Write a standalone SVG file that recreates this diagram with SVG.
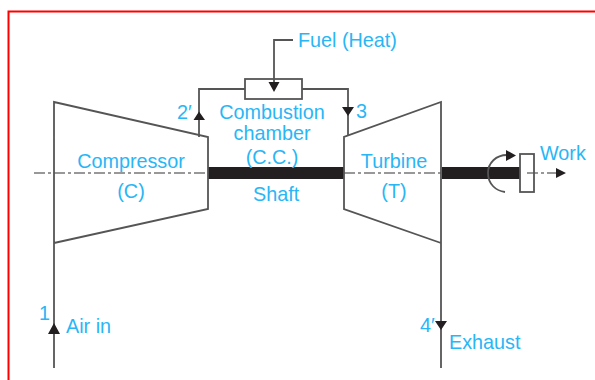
<svg xmlns="http://www.w3.org/2000/svg" width="595" height="380" viewBox="0 0 595 380">
<style>
.l{fill:none;stroke:#555;stroke-width:1.8}
.h{fill:#231f20;stroke:none}
.s{fill:#231f20;stroke:none}
.c{fill:none;stroke:#777;stroke-width:1.6;stroke-dasharray:11 3 3 3}
text{font-family:"Liberation Sans",Arial,sans-serif;font-size:19.8px;fill:#29b6f6}
.m{text-anchor:middle}
</style>
<rect width="595" height="380" fill="#fff"/>
<path d="M8.500 380V11.500H595" fill="none" stroke="#f00" stroke-width="2"/>
<g id="shaft"><rect class="s" x="208" y="167" width="136" height="12"/><rect class="s" x="442" y="167" width="78" height="12"/></g>
<g id="centerline"><path class="c" d="M34 173H208M344 173H441M527 173H556"/></g>
<g id="compressor"><path class="l" d="M54 243V102L208 137V209L54 243"/><text class="m" x="131" y="168">Compressor</text><text class="m" x="131" y="198">(C)</text></g>
<g id="turbine"><path class="l" d="M441 243V102L344 137V209L441 243"/><text class="m" x="394" y="168">Turbine</text><text class="m" x="394" y="198">(T)</text></g>
<g id="combustor"><rect x="245" y="79" width="57" height="20" fill="#fff" stroke="#555" stroke-width="1.800"/><text class="m" x="272" y="119">Combustion</text><text class="m" x="272" y="140">chamber</text><text class="m" x="272" y="164">(C.C.)</text></g>
<g id="disc"><rect x="520" y="154" width="14" height="38" fill="none" stroke="#555" stroke-width="1.800"/></g>
<g id="connectors">
<path class="l" d="M54 243V368M441 243V368M199 137V89H245M302 89H348V136M293 40H274V84"/>
<path class="l" d="M507 155C496 155 488 163 488 173C488 184 496 191 505 192"/>
<path class="h" d="M54 323L48 334H60ZM199 111.500L193.500 120H205ZM348 116L342 107H354ZM441 330L435 321H447ZM274 92L268.500 82H279.500ZM516 155.500L506 150V161ZM566 173L556 168V178Z"/>
</g>
<g id="labels">
<text x="298" y="47">Fuel (Heat)</text>
<text x="177" y="119">2′</text>
<text x="356" y="118">3</text>
<text x="253" y="201">Shaft</text>
<text x="540" y="160">Work</text>
<text x="39" y="320">1</text>
<text x="66" y="333">Air in</text>
<text x="420" y="332">4′</text>
<text x="449" y="349">Exhaust</text>
</g>
</svg>
